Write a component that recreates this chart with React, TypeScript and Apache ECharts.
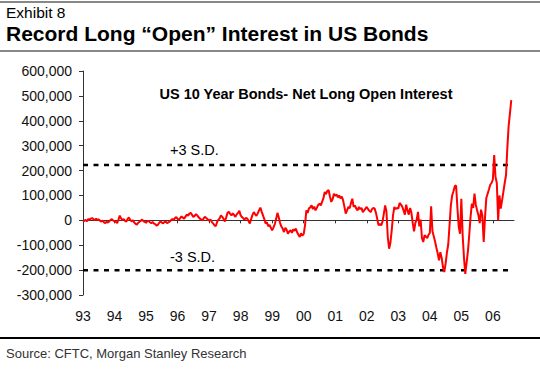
import React, { useEffect, useRef } from "react";
import * as echarts from "echarts";

// Net long open interest, US 10-year bond futures (thousands of contracts), half-monthly from Jan 1993
const v1993 = [0, -3, 2, -4, 5, 3, 7, 9, 4, 1, 6, 2, 3, -2, -5, -1, -8, -11, -6, -9, -4, 2, 5, -1];
const v1994 = [-3, -7, -11, 3, 19, 8, 2, 5, -2, -5, 6, 11, 1, -4, 0, -9, -14, -17, -10, -6, -2, 3, -3, -6];
const v1995 = [-9, -4, -3, -8, -12, -6, -13, -15, -21, -18, -10, -4, -9, -12, -7, -5, -11, -8, -5, 0, 5, 2, 9, 13];
const v1996 = [6, 2, 9, 16, 11, 7, 15, 23, 19, 27, 30, 22, 14, 18, 25, 20, 12, 7, 3, 0, 9, 14, 8, 3];
const v1997 = [-2, 3, -6, -12, -20, -24, -8, 2, 8, 20, 14, 5, -5, 12, 30, 34, 26, 20, 28, 22, 14, 24, 30, 38];
const v1998 = [20, 13, 8, 4, 10, 7, -3, -13, 5, 22, 33, 25, 18, 28, 40, 51, 35, 20, 5, -13, -8, -24, -18, -30];
const v1999 = [-40, -28, -15, 5, 30, 12, -10, -25, -33, -47, -30, -38, -54, -45, -40, -50, -36, -42, -33, -48, -58, -67, -52, -62];
const v2000 = [-55, -20, 40, 30, 48, 52, 60, 45, 55, 40, 50, 62, 67, 60, 74, 88, 114, 105, 118, 121, 95, 74, 85, 107];
const v2001 = [98, 104, 92, 100, 88, 95, 80, 54, 27, 40, 54, 48, 70, 87, 54, 60, 47, 40, 54, 45, 50, 33, 40, 47];
const v2002 = [54, 45, 38, 33, 45, 50, 47, 30, 5, -20, -15, -20, -5, 27, 60, 35, -67, -114, -90, -40, 20, 54, 45, 50];
const v2003 = [47, 70, 63, 55, 40, 23, 63, 40, 23, 50, 30, -11, -44, -10, 3, 34, -24, 3, -71, -87, -60, -65, -71, -58];
const v2004 = [-51, 56, -44, -64, -85, -110, -132, -161, -128, -150, -188, -208, -175, -130, -98, -20, 60, 100, 117, 137, 140, 50, -26, -54];
const v2005 = [87, -60, -150, -215, -170, -125, -60, 13, 67, 50, 107, 63, 40, 20, -11, 43, 20, -87, 10, 90, 107, 124, 143, 150];
const v2006 = [164, 262, 174, 150, 0, 100, 47, 80, 114, 150, 181, 290, 380, 430, 483];

const netLongThousands = [
  ...v1993, ...v1994, ...v1995, ...v1996, ...v1997, ...v1998, ...v1999,
  ...v2000, ...v2001, ...v2002, ...v2003, ...v2004, ...v2005, ...v2006,
];

const startYear = 1993;
const stepsPerYear = 24;
const yearTicks = [1993, 1994, 1995, 1996, 1997, 1998, 1999, 2000, 2001, 2002, 2003, 2004, 2005, 2006];
const axisMaxYear = 2006.67;
const sdUpper = 222000;
const sdLower = -201000;
const sdLineEndYear = 2006.55;

const FONT = "'Liberation Sans', Arial, sans-serif";

export default function App() {
  const ref = useRef<HTMLDivElement>(null);

  useEffect(() => {
    if (!ref.current) return;
    const chart = echarts.init(ref.current, null, { renderer: "svg" });
    const lineData = netLongThousands.map((v, i) => [startYear + i / stepsPerYear, v * 1000]);

    chart.setOption({
      animation: false,
      backgroundColor: "#ffffff",
      textStyle: { fontFamily: FONT },
      grid: { left: 83, right: 26, top: 71, bottom: 76, containLabel: false, outerBoundsMode: "none" },
      xAxis: {
        type: "value",
        min: startYear,
        max: axisMaxYear,
        interval: 1,
        axisLine: { onZero: true, lineStyle: { color: "#333333", width: 1 } },
        axisTick: { show: true, customValues: yearTicks, length: 3, lineStyle: { color: "#333333" } },
        axisLabel: {
          customValues: yearTicks,
          formatter: (v: number) => String(Math.round(v)).slice(2),
          margin: 14,
          fontSize: 14,
          color: "#111111",
          fontFamily: FONT,
        },
        splitLine: { show: false },
      },
      yAxis: {
        type: "value",
        min: -300000,
        max: 600000,
        interval: 100000,
        axisLine: { show: true, lineStyle: { color: "#333333", width: 1 } },
        axisTick: { show: true, length: 4, lineStyle: { color: "#333333" } },
        axisLabel: {
          formatter: (v: number) => v.toLocaleString("en-US"),
          margin: 11,
          fontSize: 14,
          color: "#111111",
          fontFamily: FONT,
        },
        splitLine: { show: false },
      },
      series: [
        {
          type: "line",
          data: [[startYear, sdUpper], [sdLineEndYear, sdUpper]],
          symbol: "none",
          lineStyle: { color: "#000000", width: 2.5, type: [5, 5.5] },
          z: 2,
        },
        {
          type: "line",
          data: [[startYear, sdLower], [sdLineEndYear, sdLower]],
          symbol: "none",
          lineStyle: { color: "#000000", width: 2.5, type: [5, 5.5] },
          z: 2,
        },
        {
          type: "line",
          data: lineData,
          symbol: "none",
          lineStyle: { color: "#ff0000", width: 2 },
          z: 3,
        },
      ],
      graphic: [
        { type: "line", shape: { x1: 0, y1: 2, x2: 540, y2: 2 }, style: { stroke: "#888888", lineWidth: 2 } },
        {
          type: "text", x: 6, y: 12.5,
          style: { text: "Exhibit 8", fontSize: 15.5, fontFamily: FONT, fill: "#000", textVerticalAlign: "middle" },
        },
        {
          type: "text", x: 6, y: 33.5,
          style: { text: "Record Long \u201cOpen\u201d Interest in US Bonds", fontSize: 21, fontWeight: "bold", fontFamily: FONT, fill: "#000", textVerticalAlign: "middle" },
        },
        { type: "line", shape: { x1: 0, y1: 51, x2: 540, y2: 51 }, style: { stroke: "#888888", lineWidth: 2 } },
        {
          type: "text", x: 306, y: 94,
          style: { text: "US 10 Year Bonds- Net Long Open Interest", fontSize: 14.5, fontWeight: "bold", fontFamily: FONT, fill: "#000", textAlign: "center", textVerticalAlign: "middle" },
        },
        {
          type: "text", x: 170, y: 150,
          style: { text: "+3 S.D.", fontSize: 14.5, fontFamily: FONT, fill: "#000", textVerticalAlign: "middle" },
        },
        {
          type: "text", x: 170, y: 257,
          style: { text: "-3 S.D.", fontSize: 14.5, fontFamily: FONT, fill: "#000", textVerticalAlign: "middle" },
        },
        { type: "line", shape: { x1: 0, y1: 338, x2: 540, y2: 338 }, style: { stroke: "#000000", lineWidth: 2 } },
        {
          type: "text", x: 6, y: 353,
          style: { text: "Source: CFTC, Morgan Stanley Research", fontSize: 13, fontFamily: FONT, fill: "#333333", textVerticalAlign: "middle" },
        },
      ],
    });

    return () => chart.dispose();
  }, []);

  return (
    <div
      ref={ref}
      style={{ position: "fixed", left: 0, top: 0, width: 540, height: 371, background: "#fff" }}
    />
  );
}
